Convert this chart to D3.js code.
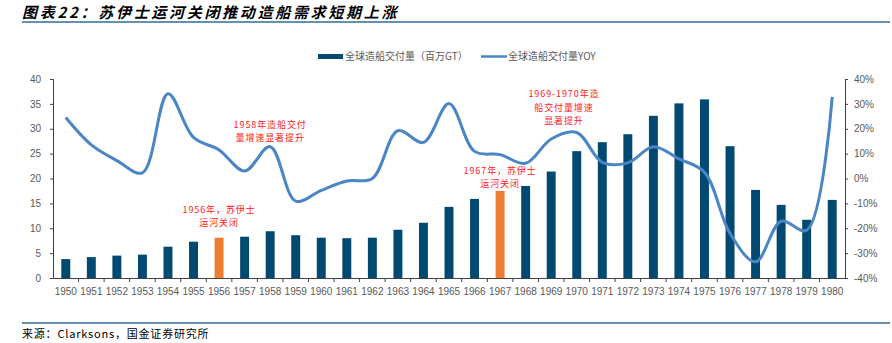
<!DOCTYPE html>
<html><head><meta charset="utf-8">
<script src="https://cdn.jsdelivr.net/npm/d3@7"></script>
<style>body{margin:0;background:#fff}svg{display:block}</style>
</head><body><svg id="c" width="892" height="343"></svg>
<script>
const years = ["1950","1951","1952","1953","1954","1955","1956","1957","1958","1959","1960","1961","1962","1963","1964","1965","1966","1967","1968","1969","1970","1971","1972","1973","1974","1975","1976","1977","1978","1979","1980"];
const deliveries = [3.8,4.2,4.5,4.7,6.3,7.3,8.1,8.3,9.4,8.6,8.1,8.0,8.1,9.7,11.1,14.3,15.9,17.5,18.5,21.4,25.5,27.3,28.9,32.6,35.1,35.9,26.5,17.7,14.7,11.7,15.7];
const yoy = [24.5,13.5,7.2,2.3,34.1,16.5,11.5,3.0,12.8,-9.1,-4.8,-1.0,0.0,19.2,14.5,30.1,10.9,9.6,6.1,15.9,18.5,6.5,6.3,12.8,7.9,2.5,-22.1,-33.5,-17.2,-20.8,32.8];
const highlightYears = ["1956","1967"];
const leftTicks = [0,5,10,15,20,25,30,35,40];
const rightTicks = [-40,-30,-20,-10,0,10,20,30,40];
const annotations = [
  {years:["1956"], lines:["1956年，苏伊士","运河关闭"], mid:216},
  {years:["1958"], lines:["1958年造船交付","量增速显著提升"], mid:131},
  {years:["1967"], lines:["1967年，苏伊士","运河关闭"], mid:177},
  {years:["1969","1970"], lines:["1969-1970年造","船交付量增速","显著提升"], mid:107}
];

const svg = d3.select("#c");
const L = 53, R = 845, T = 79, B = 278;
const x = d3.scaleBand().domain(years).range([L, R]).paddingInner(0.65).paddingOuter(0.325);
const xb = d3.scaleBand().domain(years).range([L, R]);
const yL = d3.scaleLinear().domain([0,40]).range([B, T]);
const yR = d3.scaleLinear().domain([-40,40]).range([B, T]);
const font = "'Liberation Sans', Arial, sans-serif";
const cjk = "'Noto Sans CJK SC', sans-serif";

// title
svg.append("text").attr("x",22).attr("y",17.5).attr("font-family",cjk).attr("font-weight","bold")
  .attr("font-style","italic").attr("font-size",15).attr("letter-spacing",2.7).attr("fill","#000")
  .text("图表22：苏伊士运河关闭推动造船需求短期上涨");
svg.append("line").attr("x1",22).attr("x2",890).attr("y1",22).attr("y2",22).attr("stroke","#2f6d99").attr("stroke-width",1.5);
svg.append("line").attr("x1",22).attr("x2",890).attr("y1",323).attr("y2",323).attr("stroke","#2f6d99").attr("stroke-width",1.5);
svg.append("text").attr("x",22).attr("y",338).attr("font-family",cjk).attr("font-size",11).attr("letter-spacing",0.8).attr("fill","#000")
  .text("来源：Clarksons，国金证券研究所");

// legend
const lg = svg.append("g");
lg.append("rect").attr("x",318).attr("y",54).attr("width",25).attr("height",5).attr("fill","#004a72");
lg.append("text").attr("x",345).attr("y",60).attr("font-family",cjk).attr("font-size",10).attr("fill","#595959").text("全球造船交付量（百万GT）");
lg.append("line").attr("x1",481).attr("x2",507).attr("y1",56.5).attr("y2",56.5).attr("stroke","#4a86c6").attr("stroke-width",2.5);
lg.append("text").attr("x",508).attr("y",60).attr("font-family",cjk).attr("font-size",10).attr("fill","#595959").text("全球造船交付量YOY");

// bars
svg.append("g").selectAll("rect").data(years).join("rect")
  .attr("x", d => x(d)).attr("width", x.bandwidth())
  .attr("y", (d,i) => yL(deliveries[i])).attr("height", (d,i) => B - yL(deliveries[i]))
  .attr("fill", d => highlightYears.includes(d) ? "#ed7d31" : "#004a72");

// line
const line = d3.line().x((d,i) => xb(years[i]) + xb.bandwidth()/2).y(d => yR(d)).curve(d3.curveCatmullRom.alpha(0.5));
svg.append("path").datum(yoy).attr("d", line).attr("fill","none").attr("stroke","#4a86c6").attr("stroke-width",3);

// axes
const axL = d3.axisLeft(yL).tickValues(leftTicks).tickSize(3).tickPadding(9);
const gL = svg.append("g").attr("transform",`translate(${L},0)`).call(axL);
const axR = d3.axisRight(yR).tickValues(rightTicks).tickSize(3).tickPadding(6).tickFormat(d => d + "%");
const gR = svg.append("g").attr("transform",`translate(${R},0)`).call(axR);
const axB = d3.axisBottom(xb).tickSize(0).tickPadding(10);
const gB = svg.append("g").attr("transform",`translate(0,${B})`).call(axB);
svg.append("g").selectAll("line").data(years.slice(1)).join("line")
  .attr("x1", d => xb(d)).attr("x2", d => xb(d)).attr("y1", B).attr("y2", B+4)
  .attr("stroke","#404040");
[gL,gR,gB].forEach(g => {
  g.selectAll("path.domain").attr("stroke","#404040");
  g.selectAll(".tick line").attr("stroke","#404040");
  g.selectAll("text").attr("font-family",font).attr("font-size",10).attr("fill","#595959");
});

// annotations
const lh = 13.3;
annotations.forEach(a => {
  const cx = d3.mean(a.years, y => xb(y) + xb.bandwidth()/2);
  const n = a.lines.length;
  a.lines.forEach((s,i) => svg.append("text").attr("font-family",cjk).attr("font-size",9)
    .attr("letter-spacing",0.9).attr("fill","#ff2020").attr("text-anchor","middle")
    .attr("dominant-baseline","central")
    .attr("x", cx).attr("y", a.mid + (i - (n-1)/2)*lh).text(s));
});
</script></body></html>
